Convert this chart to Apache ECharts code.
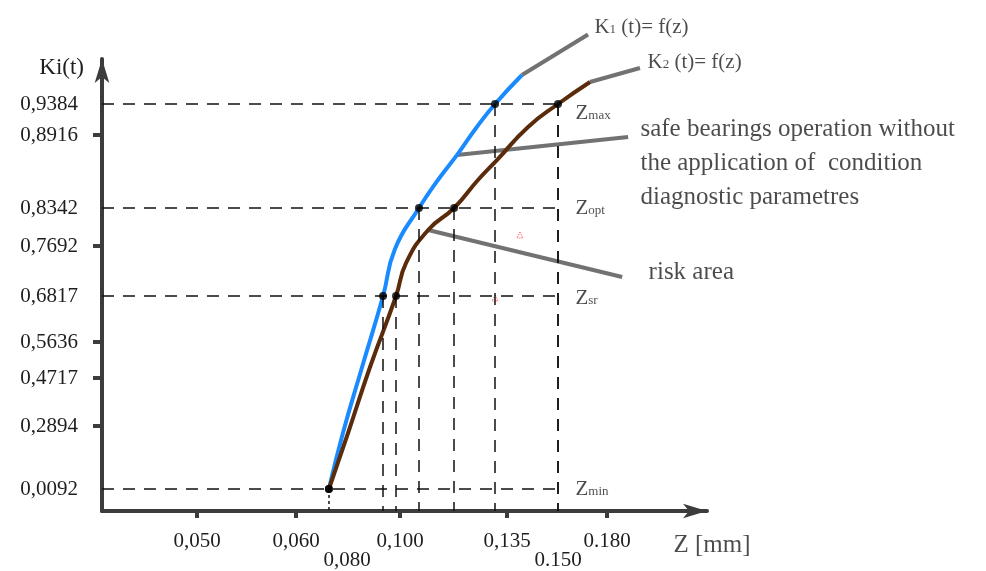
<!DOCTYPE html>
<html>
<head>
<meta charset="utf-8">
<script src="https://cdn.jsdelivr.net/npm/echarts@6/dist/echarts.min.js"></script>
<style>
  html, body { margin: 0; padding: 0; background: #fff; }
  #chart { width: 986px; height: 571px; }
</style>
</head>
<body>
<div id="chart"></div>
<script>
// tick labels (the axes in the figure are schematic, not linear)
const xTickVals = [0.050, 0.060, 0.080, 0.100, 0.135, 0.150, 0.180]
const xTickText = ['0,050', '0,060', '0,080', '0,100', '0,135', '0.150', '0.180']
const xTickLow = [false, false, true, false, false, true, false]
const xTickMarks = [0.050, 0.060, 0.100, 0.135, 0.180]
const yTickVals = [0.0092, 0.2894, 0.4717, 0.5636, 0.6817, 0.7692, 0.8342, 0.8916, 0.9384]
const yTickText = ['0,0092', '0,2894', '0,4717', '0,5636', '0,6817', '0,7692', '0,8342', '0,8916', '0,9384']
const yTickMarks = [0.2894, 0.4717, 0.5636, 0.7692, 0.8916]

// piecewise axis scale: value knots and where they sit along the axis
const xKnotVal = [0.040, 0.050, 0.060, 0.080, 0.100, 0.135, 0.150, 0.180, 0.207]
const xKnotPos = [0, 95, 194, 245, 298, 405, 456, 505, 605]
const yKnotVal = [0, 0.0092, 0.2894, 0.4717, 0.5636, 0.6817, 0.7692, 0.8342, 0.8916, 0.9384, 1.03]
const yKnotPos = [0, 22, 85, 133, 169, 215, 265, 303, 376, 407, 452]

// curves K1(t)=f(z) and K2(t)=f(z)
const k1Z = [0.0729, 0.0784, 0.0857, 0.0936, 0.0981, 0.1062, 0.1124, 0.1191, 0.1249, 0.1311, 0.1394]
const k1K = [0.0092, 0.2583, 0.4998, 0.6817, 0.7640, 0.8342, 0.8562, 0.8774, 0.9022, 0.9384, 0.9974]
const k2Z = [0.0729, 0.0804, 0.0887, 0.0985, 0.1020, 0.1092, 0.1177, 0.1255, 0.1317, 0.1412, 0.1500, 0.1696]
const k2K = [0.0092, 0.2583, 0.4998, 0.6817, 0.7395, 0.7966, 0.8342, 0.8562, 0.8719, 0.9037, 0.9384, 0.9832]

// zone levels Zmin, Zsr, Zopt, Zmax and where each curve reaches them
const zoneName = ['min', 'sr', 'opt', 'max']
const zoneK = [0.0092, 0.6817, 0.8342, 0.9384]
const k1ZoneZ = [0.0729, 0.0936, 0.1062, 0.1311]
const k2ZoneZ = [0.0729, 0.0985, 0.1177, 0.1500]
const zoneLabelZ = 0.1604
const zoneLabelK = [0.0092, 0.6766, 0.8342, 0.9248]

// leader lines [start, end] in data values
const leadK1 = [[0.1394, 0.9974], [0.1684, 1.08]]
const leadK2 = [[0.1696, 0.9832], [0.1889, 1.0117]]
const leadSafe = [[0.1186, 0.8759], [0.1857, 0.8900]]
const leadRisk = [[0.1092, 0.7966], [0.1841, 0.7150]]
const redMarks = [[0.1388, 0.788], [0.1311, 0.6766]]

function warp (v, vals, pos) {
  let i = 0
  while (i < vals.length - 2 && v > vals[i + 1]) i++
  return pos[i] + (v - vals[i]) * (pos[i + 1] - pos[i]) / (vals[i + 1] - vals[i])
}
const wx = v => warp(v, xKnotVal, xKnotPos)
const wy = v => warp(v, yKnotVal, yKnotPos)
const pt = (z, k) => [wx(z), wy(k)]
const findLabel = (v, vals, w) => vals.findIndex(t => Math.abs(w(t) - v) < 1e-6)

const serif = 'Liberation Serif'
const ink = '#1e1e1e'
const axisColor = '#3c3c3c'

// dashed guide lines
let guides = []
zoneK.forEach(k => guides.push([{ coord: pt(0.040, k) }, { coord: pt(0.150, k) }]))
for (let i = 1; i < zoneK.length; i++) {
  guides.push([{ coord: pt(k1ZoneZ[i], zoneK[i]) }, { coord: pt(k1ZoneZ[i], 0) }])
  guides.push([{ coord: pt(k2ZoneZ[i], zoneK[i]) }, { coord: pt(k2ZoneZ[i], 0) }])
}

let dots = []
zoneK.forEach((k, i) => {
  dots.push(pt(k1ZoneZ[i], k))
  dots.push(pt(k2ZoneZ[i], k))
})

const zoneRich = {
  z: { fontFamily: serif, fontSize: 21, color: ink, verticalAlign: 'bottom', lineHeight: 22 },
  s: { fontFamily: serif, fontSize: 13, color: ink, verticalAlign: 'bottom', lineHeight: 14, padding: [0, 0, 2, 0] }
}
let texts = zoneName.map((n, i) => ({
  value: pt(zoneLabelZ, zoneLabelK[i]),
  label: { formatter: '{z|Z}{s|' + n + '}', rich: zoneRich }
}))
texts.push({
  value: pt(0.1720, 1.095),
  label: { formatter: '{z|K}{s|1}{z| (t)= f(z)}', rich: zoneRich }
})
texts.push({
  value: pt(0.1908, 1.0239),
  label: { formatter: '{z|K}{s|2}{z| (t)= f(z)}', rich: zoneRich }
})
texts.push({
  value: pt(0.1889, 0.8696),
  label: { formatter: 'safe bearings operation without\nthe application of  condition\ndiagnostic parametres', fontSize: 25, lineHeight: 34 }
})
texts.push({ value: pt(0.1911, 0.7237), label: { formatter: 'risk area', fontSize: 25 } })
texts.push({ value: pt(0.1978, -0.0142), label: { formatter: 'Z [mm]', fontSize: 25 } })

const leader = (seg, name) => ({
  name: name,
  type: 'line',
  data: seg.map(p => pt(p[0], p[1])),
  symbol: 'none',
  clip: false,
  silent: true,
  lineStyle: { color: '#727272', width: 4 }
})

const chart = echarts.init(document.getElementById('chart'))
const option = {
  animation: false,
  grid: { left: 102, right: 279, top: 59, bottom: 60 },
  xAxis: {
    type: 'value',
    min: 0,
    max: 605,
    splitLine: { show: false },
    axisLine: { lineStyle: { color: axisColor, width: 4 }, symbol: ['none', 'arrow'], symbolSize: [11, 24] },
    axisTick: { customValues: xTickMarks.map(wx), length: 7, lineStyle: { color: axisColor, width: 4 } },
    axisLabel: {
      customValues: xTickVals.map(wx),
      margin: 21,
      fontFamily: serif,
      fontSize: 21,
      lineHeight: 19,
      color: ink,
      formatter: v => {
        let i = findLabel(v, xTickVals, wx)
        if (i < 0) return ''
        return (xTickLow[i] ? '\n' : '') + xTickText[i]
      }
    }
  },
  yAxis: {
    type: 'value',
    min: 0,
    max: 452,
    name: 'Ki(t)',
    nameLocation: 'end',
    nameGap: -9,
    nameTextStyle: { fontFamily: serif, fontSize: 23, color: ink, align: 'right', verticalAlign: 'middle', padding: [0, 18, 0, 0] },
    splitLine: { show: false },
    axisLine: { lineStyle: { color: axisColor, width: 4 }, symbol: ['none', 'arrow'], symbolSize: [11, 24] },
    axisTick: { customValues: yTickMarks.map(wy), length: 9, lineStyle: { color: axisColor, width: 4 } },
    axisLabel: {
      customValues: yTickVals.map(wy),
      margin: 24,
      fontFamily: serif,
      fontSize: 21,
      color: ink,
      formatter: v => {
        let i = findLabel(v, yTickVals, wy)
        return i < 0 ? '' : yTickText[i]
      }
    }
  },
  series: [
    {
      name: 'guides',
      type: 'line',
      data: [],
      markLine: {
        silent: true,
        symbol: ['none', 'none'],
        label: { show: false },
        lineStyle: { color: '#111', width: 1.5, type: [12, 9] },
        data: guides.concat([
          [{ coord: pt(0.150, zoneK[3]) }, { coord: pt(0.150, 0) }],
          [{ coord: pt(k1ZoneZ[0], zoneK[0]) }, { coord: pt(k1ZoneZ[0], 0), lineStyle: { type: [3, 3] } }]
        ])
      }
    },
    leader(leadSafe, 'safe'),
    leader(leadRisk, 'risk'),
    leader(leadK1, 'k1lead'),
    leader(leadK2, 'k2lead'),
    {
      name: 'K1(t)',
      type: 'line',
      data: k1Z.map((z, i) => pt(z, k1K[i])),
      smooth: 0.5,
      symbol: 'none',
      lineStyle: { color: '#1a8bff', width: 4 }
    },
    {
      name: 'K2(t)',
      type: 'line',
      data: k2Z.map((z, i) => pt(z, k2K[i])),
      smooth: 0.5,
      symbol: 'none',
      lineStyle: { color: '#5a2c0b', width: 4 }
    },
    {
      name: 'points',
      type: 'scatter',
      data: dots,
      symbolSize: 8,
      z: 10,
      itemStyle: { color: '#000' }
    },
    {
      name: 'marks',
      type: 'scatter',
      data: redMarks.map(p => pt(p[0], p[1])),
      symbol: 'triangle',
      symbolSize: 6,
      itemStyle: { color: 'rgba(0,0,0,0)', borderColor: '#ff2020', borderWidth: 1, borderType: 'dotted' }
    },
    {
      name: 'texts',
      type: 'scatter',
      data: texts,
      symbolSize: 1,
      clip: false,
      silent: true,
      itemStyle: { color: 'rgba(0,0,0,0)' },
      label: {
        show: true,
        position: 'right',
        distance: 0,
        fontFamily: serif,
        color: ink,
        align: 'left',
        verticalAlign: 'middle'
      }
    }
  ]
}
chart.setOption(option)
window.addEventListener('resize', () => chart.resize())
</script>
</body>
</html>
